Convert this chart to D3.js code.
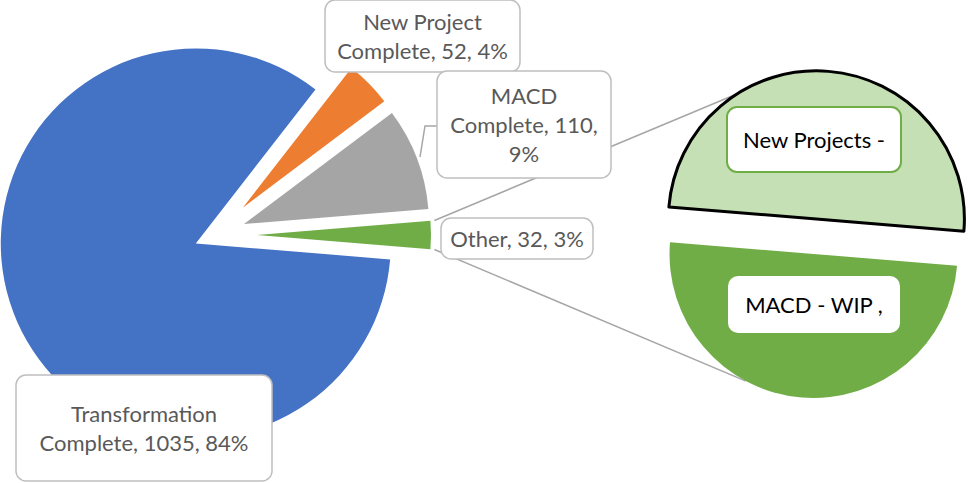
<!DOCTYPE html>
<html>
<head>
<meta charset="utf-8">
<script src="https://cdn.jsdelivr.net/npm/d3@7"></script>
<style>
  body { margin: 0; background: #fff; }
  svg { display: block; font-family: Lato, "Open Sans", sans-serif; }
</style>
</head>
<body>
<svg width="970" height="483"></svg>
<script>
// ---- data ----
const mainNames = ["Transformation Complete", "New Project Complete", "MACD Complete", "Other"];
const mainValues = [1035, 52, 110, 32];
const subNames = ["New Projects -", "MACD - WIP ,"];
const subValues = [16, 16];

// ---- look ----
const mainColors = ["#4472c4", "#ed7d31", "#a5a5a5", "#70ad47"];
const subColors = ["#c5e0b4", "#70ad47"];
const mainExplode = [21, 39, 31, 42];   // px each slice is pulled out
const mainRadius = [195, 177, 185, 174];
const subExplode = [17, 18];
const subRadius = [148, 144];

const svg = d3.select("svg");
const width = 970, height = 483;

const mainCenter = [215, 235];
const subCenter = [815, 236];

const total = d3.sum(mainValues);
const otherHalf = Math.PI * mainValues[3] / total; // half the angle of "Other"

// "Other" sits centred at 3 o'clock, the secondary pie is turned the same way
const mainPie = d3.pie().sort(null)
    .startAngle(Math.PI / 2 + otherHalf)
    .endAngle(Math.PI / 2 + otherHalf + 2 * Math.PI);
const subPie = d3.pie().sort(null)
    .startAngle(-Math.PI / 2 + otherHalf)
    .endAngle(-Math.PI / 2 + otherHalf + 2 * Math.PI);

const mainArcs = mainPie(mainValues);
const subArcs = subPie(subValues);

// centre of an exploded slice
function sliceCenter(c, d, e) {
    const a = (d.startAngle + d.endAngle) / 2;
    return [c[0] + e * Math.sin(a), c[1] - e * Math.cos(a)];
}
function polar(c, r, a) {
    return [c[0] + r * Math.sin(a), c[1] - r * Math.cos(a)];
}

const arc = d3.arc().innerRadius(0);

// ---- series lines (behind everything) ----
const green = mainArcs[3];
const gC = sliceCenter(mainCenter, green, mainExplode[3]);
const lightC = sliceCenter(subCenter, subArcs[0], subExplode[0]);
const darkC = sliceCenter(subCenter, subArcs[1], subExplode[1]);

const seriesLines = [
    [polar(gC, mainRadius[3] + 4, green.startAngle), polar(lightC, subRadius[0], -32 * Math.PI / 180)],
    [polar(gC, mainRadius[3] + 4, green.endAngle), polar(darkC, subRadius[1], 208 * Math.PI / 180)]
];
svg.append("g").selectAll("line")
    .data(seriesLines)
    .join("line")
    .attr("x1", d => d[0][0]).attr("y1", d => d[0][1])
    .attr("x2", d => d[1][0]).attr("y2", d => d[1][1])
    .attr("stroke", "#a6a6a6")
    .attr("stroke-width", 1.5);

// ---- primary pie ----
svg.append("g").selectAll("path")
    .data(mainArcs)
    .join("path")
    .attr("transform", (d, i) => `translate(${sliceCenter(mainCenter, d, mainExplode[i])})`)
    .attr("d", (d, i) => arc.outerRadius(mainRadius[i])(d))
    .attr("fill", (d, i) => mainColors[i]);

// ---- secondary pie ----
svg.append("g").selectAll("path")
    .data(subArcs)
    .join("path")
    .attr("transform", (d, i) => `translate(${sliceCenter(subCenter, d, subExplode[i])})`)
    .attr("d", (d, i) => arc.outerRadius(subRadius[i])(d))
    .attr("fill", (d, i) => subColors[i])
    .attr("stroke", (d, i) => i === 0 ? "#000" : "none")
    .attr("stroke-width", 3)
    .attr("stroke-linejoin", "round");

// ---- leader line for MACD label ----
svg.append("path")
    .attr("d", d3.line()([[437, 126], [425, 126], [420, 157]]))
    .attr("fill", "none")
    .attr("stroke", "#a6a6a6")
    .attr("stroke-width", 1.5);

// ---- data labels ----
const pct = v => Math.round(v / total * 100) + "%";
const mainBoxes = [
    { x: 16, y: 375, w: 256, h: 106, breaks: [1] },
    { x: 325, y: 0, w: 195, h: 72, breaks: [2] },
    { x: 437, y: 71, w: 174, h: 107, breaks: [1, 3] },
    { x: 441, y: 218, w: 152, h: 41, breaks: [] }
];

const labels = mainNames.map((n, i) => {
    const words = `${n}, ${mainValues[i]}, ${pct(mainValues[i])}`.split(" ");
    const cuts = [0, ...mainBoxes[i].breaks, words.length];
    const lines = d3.pairs(cuts).map(([a, b]) => words.slice(a, b).join(" "));
    return { box: mainBoxes[i], lines, color: "#595959", stroke: "#bfbfbf", sw: 1.5 };
});
const subBoxes = [
    { x: 727, y: 107, w: 174, h: 65 },
    { x: 728, y: 276, w: 172, h: 57 }
];
subNames.forEach((n, i) => labels.push({
    box: subBoxes[i], lines: [n], color: "#000",
    stroke: i === 0 ? "#70ad47" : "none", sw: 2
}));

const lineH = 29;
const lab = svg.append("g").selectAll("g")
    .data(labels)
    .join("g");

lab.append("rect")
    .attr("x", d => d.box.x).attr("y", d => d.box.y)
    .attr("width", d => d.box.w).attr("height", d => d.box.h)
    .attr("rx", 10)
    .attr("fill", "#fff")
    .attr("stroke", d => d.stroke)
    .attr("stroke-width", d => d.sw);

lab.each(function(d) {
    const cx = d.box.x + d.box.w / 2;
    const cy = d.box.y + d.box.h / 2 + 1;
    const t = d3.select(this).append("text")
        .attr("text-anchor", "middle")
        .attr("fill", d.color)
        .style("font-size", "22px");
    d.lines.forEach((l, k) => {
        t.append("tspan")
            .attr("x", cx)
            .attr("y", cy + (k - (d.lines.length - 1) / 2) * lineH)
            .attr("dy", "0.35em")
            .text(l);
    });
});
</script>
</body>
</html>
